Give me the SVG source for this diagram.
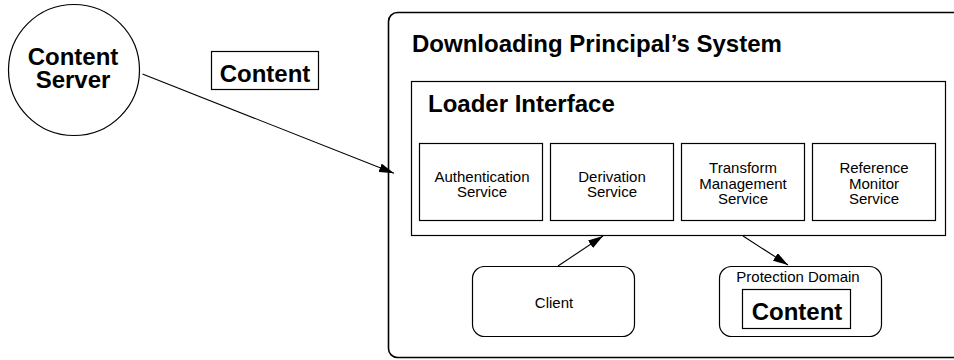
<svg xmlns="http://www.w3.org/2000/svg" width="954" height="360" viewBox="0 0 954 360">
<defs>
<style>
.b{fill:#fff;stroke:#000;stroke-width:1.2}
.o{fill:#fff;stroke:#000;stroke-width:1.6}
.t{font-family:"Liberation Sans",Arial,Helvetica,sans-serif;fill:#000}
.big{font-size:24px;font-weight:bold}
.sm{font-size:15px}
.c{stroke:#000;stroke-width:1.1;fill:none}
</style>
<marker id="ah" markerWidth="15" markerHeight="9" refX="15" refY="4.5" orient="auto" markerUnits="userSpaceOnUse">
<path d="M0,0 L15,4.5 L0,9 z" fill="#000"/>
</marker>
</defs>
<rect width="954" height="360" fill="#fff"/>
<g id="system">
<rect class="o" x="388.5" y="12.5" width="590" height="345" rx="9"/>
<text class="t big" x="412" y="52">Downloading Principal’s System</text>
</g>
<g id="loader">
<rect class="b" x="411.5" y="81.5" width="534" height="154"/>
<text class="t big" x="428" y="112">Loader Interface</text>
</g>
<g id="auth">
<rect class="b" x="419.5" y="143.5" width="123" height="77"/>
<text class="t sm" text-anchor="middle" x="482" y="182">Authentication</text>
<text class="t sm" text-anchor="middle" x="482" y="197">Service</text>
</g>
<g id="deriv">
<rect class="b" x="550.5" y="143.5" width="123" height="77"/>
<text class="t sm" text-anchor="middle" x="612" y="182">Derivation</text>
<text class="t sm" text-anchor="middle" x="612" y="197">Service</text>
</g>
<g id="transform">
<rect class="b" x="681.5" y="143.5" width="123" height="77"/>
<text class="t sm" text-anchor="middle" x="743" y="173">Transform</text>
<text class="t sm" text-anchor="middle" x="743" y="188.5">Management</text>
<text class="t sm" text-anchor="middle" x="743" y="204">Service</text>
</g>
<g id="refmon">
<rect class="b" x="812.5" y="143.5" width="123" height="77"/>
<text class="t sm" text-anchor="middle" x="874" y="173">Reference</text>
<text class="t sm" text-anchor="middle" x="874" y="188.5">Monitor</text>
<text class="t sm" text-anchor="middle" x="874" y="204">Service</text>
</g>
<g id="client">
<rect class="b" x="472.5" y="266.5" width="162" height="70" rx="12"/>
<text class="t sm" text-anchor="middle" x="554" y="308">Client</text>
</g>
<g id="protection">
<rect class="b" x="719.5" y="266.5" width="162" height="70" rx="12"/>
<text class="t sm" text-anchor="middle" x="798" y="282">Protection Domain</text>
<rect class="b" x="742.5" y="289.5" width="108" height="39"/>
<text class="t big" text-anchor="middle" x="797" y="320">Content</text>
</g>
<g id="server">
<circle class="b" cx="74" cy="70" r="65.5"/>
<text class="t big" text-anchor="middle" x="73" y="65">Content</text>
<text class="t big" text-anchor="middle" x="73" y="88">Server</text>
</g>
<g id="content-label">
<rect class="b" x="211.5" y="51.5" width="107" height="38"/>
<text class="t big" text-anchor="middle" x="265" y="82">Content</text>
</g>
<g id="connectors">
<line class="c" x1="142.5" y1="74" x2="394" y2="173.3" marker-end="url(#ah)"/>
<line class="c" x1="558" y1="266" x2="603" y2="236" marker-end="url(#ah)"/>
<line class="c" x1="743" y1="236" x2="788" y2="265" marker-end="url(#ah)"/>
</g>
</svg>
